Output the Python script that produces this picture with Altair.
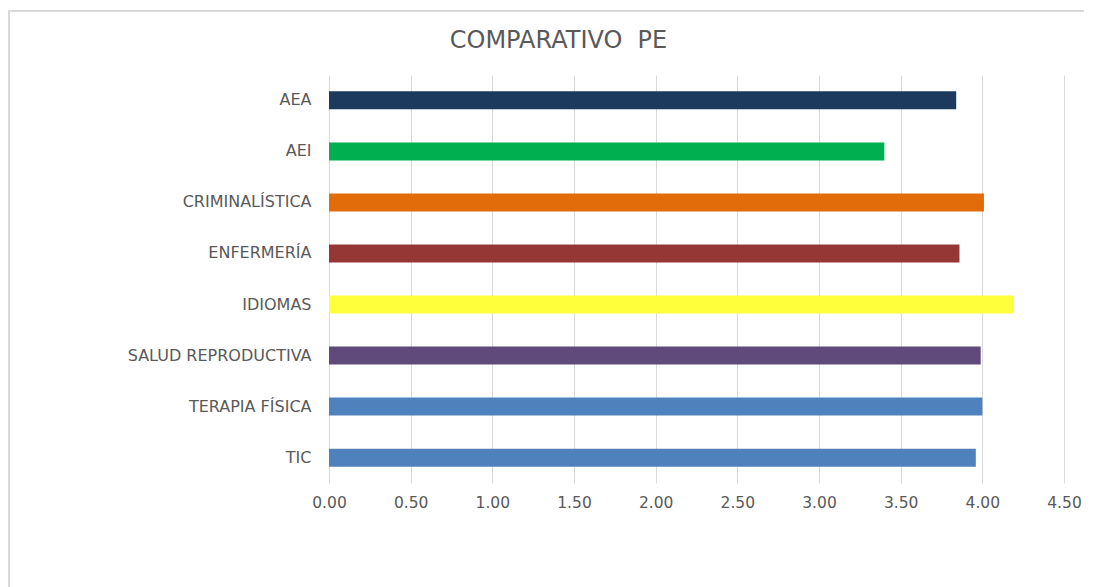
import altair as alt
import pandas as pd

categories = ["AEA", "AEI", "CRIMINALÍSTICA", "ENFERMERÍA", "IDIOMAS",
              "SALUD REPRODUCTIVA", "TERAPIA FÍSICA", "TIC"]
values = [3.84, 3.40, 4.01, 3.86, 4.19, 3.99, 4.00, 3.96]
colors = ["#1B3A5E", "#00B050", "#E36C0A", "#953735", "#FFFF3B",
          "#604A7B", "#4F81BD", "#4F81BD"]
x_ticks = [0, 0.5, 1.0, 1.5, 2.0, 2.5, 3.0, 3.5, 4.0, 4.5]

df = pd.DataFrame({"programa": categories, "valor": values, "color": colors})

font = "DejaVu Sans"

border = alt.Chart(df).mark_rect(fill=None, stroke="#d9d9d9", strokeWidth=1.5).encode(
    x=alt.value(-320), x2=alt.value(761), y=alt.value(-64), y2=alt.value(640)
)

bars = alt.Chart(df).mark_bar().encode(
    x=alt.X("valor:Q", scale=alt.Scale(domain=[0, 4.5], nice=False),
            axis=alt.Axis(values=x_ticks, format=".2f", title=None, domain=False,
                          ticks=False, grid=True, gridColor="#d9d9d9",
                          labelColor="#595959", labelFont=font, labelFontSize=15.5,
                          labelPadding=12, labelFlush=False)),
    y=alt.Y("programa:N", sort=categories,
            scale=alt.Scale(paddingInner=0.647, paddingOuter=0.32),
            axis=alt.Axis(title=None, domain=False, ticks=False,
                          labelColor="#595959", labelFont=font, labelFontSize=16,
                          labelPadding=18, labelLimit=300)),
    color=alt.Color("color:N", scale=None),
)

chart = alt.layer(border, bars).properties(
    width=735, height=408,
    title=alt.TitleParams("COMPARATIVO\u00a0 PE", font=font, fontSize=24,
                          fontWeight="normal", color="#595959",
                          anchor="middle", frame="group", dx=-138,
                          baseline="alphabetic", offset=-62),
    padding={"left": 321, "top": 67, "right": 20, "bottom": 104},
    autosize=alt.AutoSizeParams(type="none"),
).configure_view(stroke=None)

chart.save("out.html", embed_options={"renderer": "svg", "actions": False})
